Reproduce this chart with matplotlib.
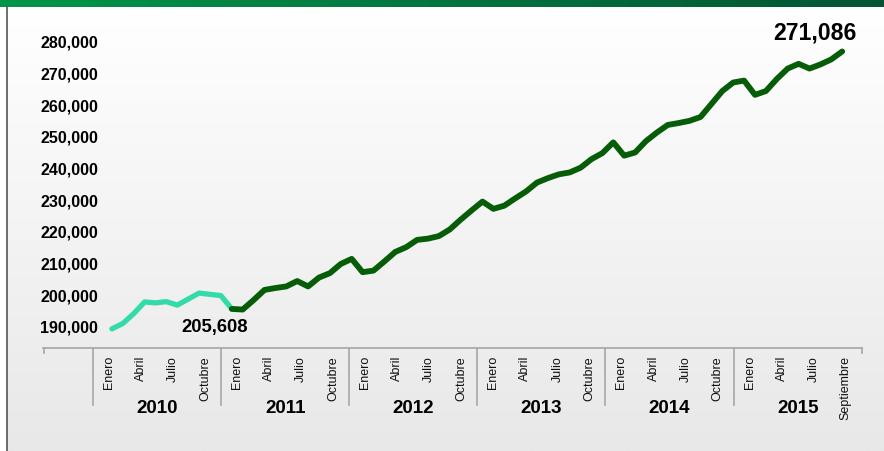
import matplotlib.pyplot as plt
import numpy as np
from matplotlib.colors import LinearSegmentedColormap
from matplotlib.lines import Line2D

plt.rcParams['font.family'] = ['Liberation Sans', 'DejaVu Sans']

# empleo mensual, enero 2010 en adelante
empleo = [189000, 190700, 193800, 197500, 197200, 197600, 196500, 198400,
          200300, 199900, 199500, 195300,
          195100, 198100, 201300, 201900, 202400, 204100, 202400, 205200,
          206600, 209500, 211100, 206900,
          207400, 210300, 213300, 214800, 217100, 217500, 218300, 220400,
          223500, 226400, 229200, 226900,
          227900, 230200, 232400, 235200, 236600, 237800, 238400, 239900,
          242600, 244500, 247900, 243700,
          244700, 248300, 251000, 253400, 254000, 254700, 255900, 260000,
          264100, 266800, 267400, 262900,
          264100, 267900, 271200, 272700, 271200, 272500, 274100, 276600]
n_2010 = 12

anios = ["2010", "2011", "2012", "2013", "2014", "2015"]
meses = ["Enero", "Abril", "Julio", "Octubre"]
meses_ultimo = ["Enero", "Abril", "Julio", "Septiembre"]
valores_y = list(range(190000, 290000, 10000))
etiqueta_inicio = "205,608"
etiqueta_fin = "271,086"

verde_claro = "#33DBAA"
verde_oscuro = "#075C08"
gris = "#A6A6A6"

W, H = 884, 452
fig = plt.figure(figsize=(W / 100, H / 100), dpi=100)


def rect(x0, y0, x1, y1):
    # pixeles (arriba-izquierda) -> fraccion de figura
    return [x0 / W, 1 - y1 / H, (x1 - x0) / W, (y1 - y0) / H]


# fondo degradado
fondo = fig.add_axes(rect(7, 8, W, H))
grad = np.linspace(0, 1, 256).reshape(-1, 1)
cm_fondo = LinearSegmentedColormap.from_list("f", ["#FFFFFF", "#E8E8E8"])
fondo.imshow(grad, aspect="auto", cmap=cm_fondo, extent=[0, 1, 1, 0])
fondo.axis("off")

# barra verde superior
barra = fig.add_axes(rect(0, 0, W, 7.5))
cm_barra = LinearSegmentedColormap.from_list("b", ["#00964A", "#045434"])
barra.imshow(np.linspace(0, 1, 256).reshape(1, -1), aspect="auto", cmap=cm_barra)
barra.axis("off")

fig.add_artist(Line2D([7.5 / W, 7.5 / W], [0, 1 - 8 / H], color="#555555", lw=1.2))

# serie
ax = fig.add_axes(rect(93, 20, 861.7, 349.3))
ax.set_facecolor("none")
x = np.arange(len(empleo))
ax.plot(x[:n_2010], empleo[:n_2010], color=verde_claro, lw=3.8,
        solid_capstyle="round", solid_joinstyle="round")
ax.plot(x[n_2010 - 1:], empleo[n_2010 - 1:], color=verde_oscuro, lw=4.2,
        solid_capstyle="round", solid_joinstyle="round")
ax.set_xlim(-1.734, 68.79)
ax.set_ylim(182863, 286853)
ax.set_xticks([])
ax.set_yticks(valores_y)
ax.set_yticklabels([f"{v:,}" for v in valores_y], fontsize=11.5, fontweight="bold")
ax.tick_params(axis="y", length=0, pad=-3.8)
for s in ax.spines.values():
    s.set_visible(False)

ax.annotate(etiqueta_inicio, (n_2010 - 1, empleo[n_2010 - 1]), xytext=(-12.2, -12.7),
            textcoords="offset points", ha="center", va="center",
            fontsize=13.3, fontweight="bold", annotation_clip=False)
ax.annotate(etiqueta_fin, (len(empleo) - 1, empleo[-1]), xytext=(-19.9, 14),
            textcoords="offset points", ha="center", va="center",
            fontsize=16.6, fontweight="bold", annotation_clip=False)

# eje de categorias (meses / anios)
axl = fig.add_axes(rect(43, 349.3, 861.7, H))
axl.set_xlim(-4.68, 72)
axl.set_ylim(0, 1)
axl.axis("off")
axl.plot([-4.68, 72], [1, 1], color=gris, lw=1.2, clip_on=False)
axl.plot([-4.6, -4.6], [0.954, 1], color=gris, lw=1.2, clip_on=False)
axl.plot([72, 72], [0.954, 1], color=gris, lw=1.2, clip_on=False)
for k, anio in enumerate(anios):
    inicio = 12 * k
    axl.plot([inicio, inicio], [0.448, 1], color=gris, lw=1.2)
    etiquetas = meses_ultimo if k == len(anios) - 1 else meses
    for j, mes in enumerate(etiquetas):
        axl.text(inicio + 1.5 + 3 * j, 0.935, mes, rotation=90, ha="center",
                 va="top", fontsize=9, color="#111111")
    axl.text(inicio + 6, 0.419, anio, ha="center", va="center",
             fontsize=13.5, fontweight="bold")

fig.savefig("out.png", dpi=100)
